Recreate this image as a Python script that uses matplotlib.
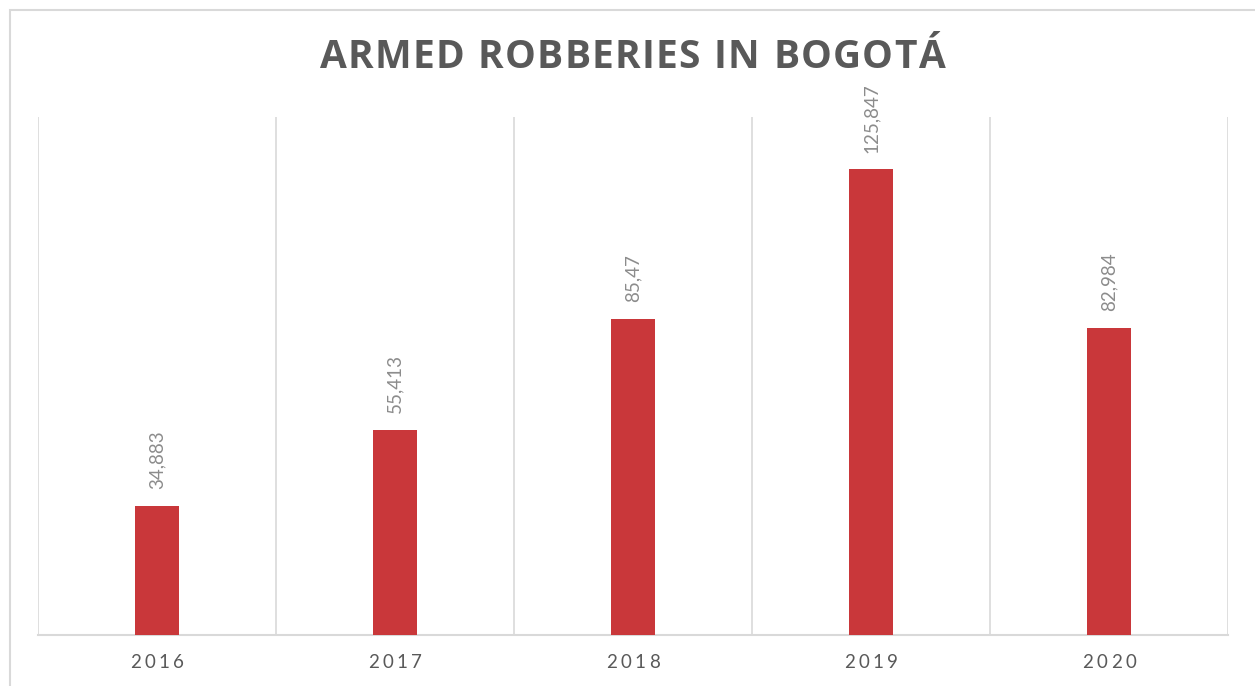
import matplotlib
matplotlib.use("Agg")
import matplotlib.pyplot as plt
from matplotlib.patches import Rectangle

# armed robberies per year, in thousands (labels use a decimal comma)
years = ["2016", "2017", "2018", "2019", "2020"]
robberies = [34.883, 55.413, 85.47, 125.847, 82.984]

BAR_COLOR = "#C9373A"
GRID_COLOR = "#D9D9D9"
TEXT_DARK = "#595959"
TEXT_LIGHT = "#8C8C8C"

W, H = 1255, 686
fig = plt.figure(figsize=(W / 100, H / 100), dpi=100)
fig.patch.set_facecolor("white")

# chart border (open on the right/bottom edges)
fig.add_artist(Rectangle((10 / W, -0.05), 1.1, (H - 10) / H + 0.05,
                         transform=fig.transFigure, fill=False,
                         edgecolor=GRID_COLOR, lw=1.5))

ax = fig.add_axes([38 / W, (H - 635) / H, (1228 - 38) / W, (635 - 117) / H])
x = list(range(len(years)))
ax.bar(x, robberies, width=0.185, color=BAR_COLOR, zorder=3)
ax.set_xlim(-0.5, len(years) - 0.5)
ax.set_ylim(0, 140)

# category separators
for b in range(len(years) + 1):
    ax.axvline(b - 0.5, color=GRID_COLOR, lw=1.2, zorder=1)
for side in ["top", "right", "left"]:
    ax.spines[side].set_visible(False)
ax.spines["bottom"].set_color(GRID_COLOR)
ax.spines["bottom"].set_linewidth(1.5)
ax.set_xticks([])
ax.set_yticks([])

for xi, v in zip(x, robberies):
    lbl = f"{v:g}".replace(".", ",")
    ax.annotate(lbl, (xi, v), xytext=(0, 12), textcoords="offset points",
                rotation=90, ha="center", va="bottom", fontsize=13.5,
                color=TEXT_LIGHT, family="Lato")

renderer = fig.canvas.get_renderer()


def spaced_text(px, py, s, gap, **kw):
    # draw a string char by char with extra tracking, centred on (px, py) pixels
    widths = []
    for ch in s:
        t = fig.text(0, 0, ch if ch != " " else "n", **kw)
        w = t.get_window_extent(renderer).width
        t.remove()
        widths.append(w * (0.45 if ch == " " else 1.0))
    total = sum(widths) + gap * (len(s) - 1)
    cur = px - total / 2
    for ch, w in zip(s, widths):
        if ch != " ":
            fig.text(cur / W, py / H, ch, ha="left", va="center", **kw)
        cur += w + gap


spaced_text(632, H - 57, "ARMED ROBBERIES IN BOGOTÁ", 1.2,
            fontsize=28, fontweight="bold", color=TEXT_DARK, family="Open Sans")

for xi, yr in zip(x, years):
    px = ax.transData.transform((xi, 0))[0]
    spaced_text(px, H - 663, yr, 3.5, fontsize=13.5, color=TEXT_DARK, family="Lato")

fig.savefig("out.png", dpi=100)
